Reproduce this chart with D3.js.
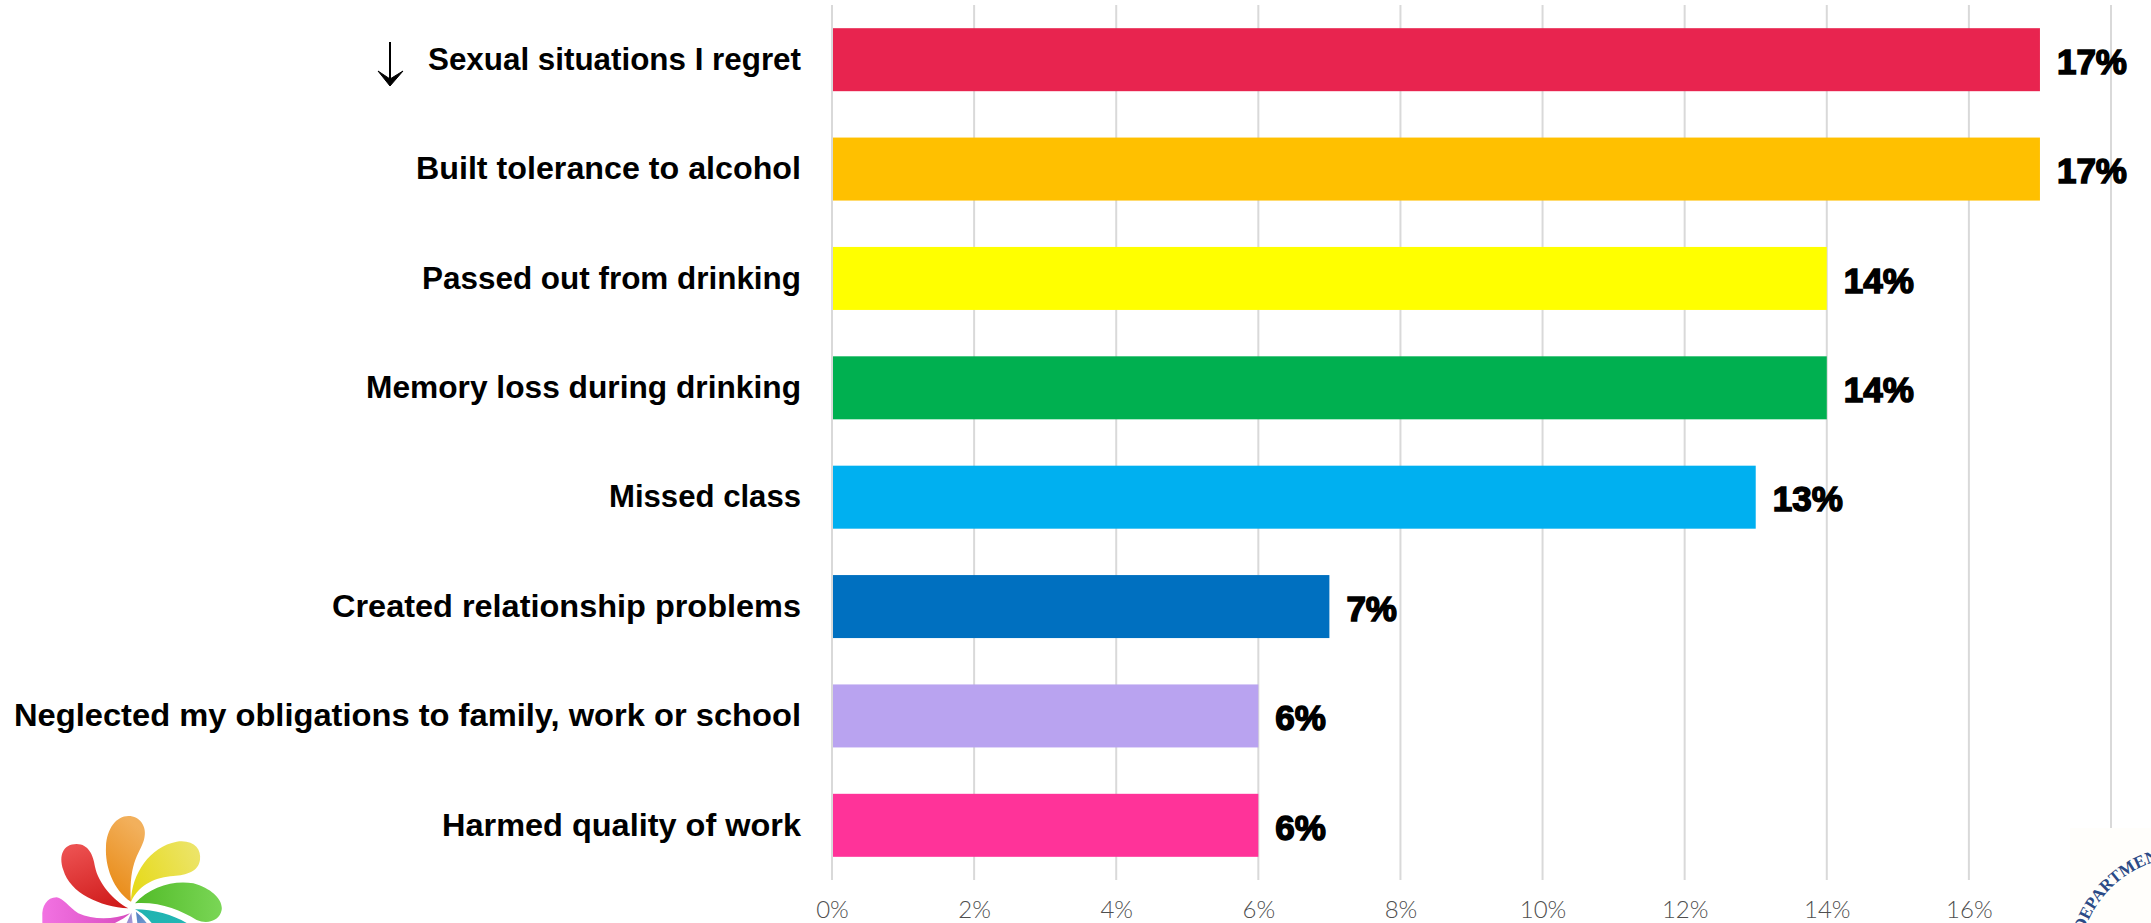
<!DOCTYPE html>
<html><head><meta charset="utf-8">
<script src="https://cdn.jsdelivr.net/npm/d3@7"></script>
<style>html,body{margin:0;padding:0;background:#fff;overflow:hidden}svg{display:block}</style>
</head><body><svg id="c" width="2151" height="923"></svg>
<script>
const categories = ["Sexual situations I regret","Built tolerance to alcohol","Passed out from drinking","Memory loss during drinking","Missed class","Created relationship problems","Neglected my obligations to family, work or school","Harmed quality of work"];
const values = [17,17,14,14,13,7,6,6];
const colors = ["#e8244f","#ffc000","#ffff00","#00b050","#00b0f0","#0070c0","#b9a3f0","#ff3399"];
const ticks = [0,2,4,6,8,10,12,14,16,18];
const tickLabels = ["0%","2%","4%","6%","8%","10%","12%","14%","16%",""];
const labelLengths = [373,385,379,435,192,469,787,359];

const svg = d3.select("#c");
const x = d3.scaleLinear().domain([0,18]).range([832,2111]);
const y = d3.scaleBand().domain(categories).range([5,880]).paddingInner(0.424).paddingOuter(0.212);

svg.append("g").selectAll("line").data(ticks).join("line")
  .attr("x1",d=>x(d)).attr("x2",d=>x(d)).attr("y1",5).attr("y2",880)
  .attr("stroke","#d9d9d9").attr("stroke-width",2);

const axis = d3.axisBottom(x).tickValues(ticks).tickSize(0).tickPadding(0).tickFormat((d,i)=>tickLabels[i]);
const ag = svg.append("g").attr("transform","translate(0,901)").call(axis);
ag.select(".domain").remove();
ag.selectAll("text").attr("font-family","'Lato',sans-serif").attr("font-weight",300).attr("font-size",24).attr("fill","#4f4f4f").attr("dy","0.71em");

svg.append("g").selectAll("rect").data(categories).join("rect")
  .attr("x",x(0)+1).attr("y",d=>y(d)).attr("width",(d,i)=>x(values[i])-x(0)-1).attr("height",y.bandwidth())
  .attr("fill",(d,i)=>colors[i]);

svg.append("g").selectAll("text").data(categories).join("text")
  .attr("x",801).attr("y",d=>y(d)+y.bandwidth()/2-1).attr("dy","0.35em")
  .attr("text-anchor","end").attr("font-family","'Liberation Sans',Arial,sans-serif").attr("font-weight",700).attr("font-size",32)
  .attr("textLength",(d,i)=>labelLengths[i]).attr("lengthAdjust","spacingAndGlyphs")
  .attr("fill","#000").text(d=>d);

svg.append("g").selectAll("text").data(categories).join("text")
  .attr("x",(d,i)=>x(values[i])+17).attr("y",d=>y(d)+y.bandwidth()/2+2).attr("dy","0.35em")
  .attr("font-family","'Liberation Sans',Arial,sans-serif").attr("font-weight",700).attr("font-size",35)
  .attr("fill","#000").attr("stroke","#000").attr("stroke-width",1.5).text((d,i)=>values[i]+"%");

// hand-drawn arrow beside the first label
svg.append("path").attr("d","M390 42 V80").attr("fill","none").attr("stroke","#000").attr("stroke-width",2);
svg.append("path").attr("d","M378 71 L390 86 L403 71 L390 79 Z").attr("fill","#000").attr("stroke","#000").attr("stroke-width",1);

// pinwheel logo, cropped by the bottom edge
const petalData = [
 {id:"o",c0:"#e8870f",c1:"#f2b05c",d:"M393 425 C340 390 315 320 318 260 C320 205 350 168 385 168 C420 168 442 200 433 235 C425 275 385 300 393 425 Z",v:[.1,1,.5,0]},
 {id:"r",c0:"#d01c1c",c1:"#ec5050",d:"M385 445 C300 440 210 400 190 330 C175 285 190 252 230 252 C265 252 280 285 285 320 C295 370 340 420 385 445 Z",v:[.7,1,.3,0]},
 {id:"y",c0:"#e6da1a",c1:"#ece468",d:"M393 425 C395 340 450 260 530 245 C580 238 605 265 600 300 C595 335 560 345 520 348 C470 352 420 370 393 425 Z",v:[0,.7,1,.3]},
 {id:"g",c0:"#52bb28",c1:"#7ad656",d:"M405 430 C450 380 520 360 580 370 C635 385 670 420 665 450 C660 480 625 495 590 480 C540 450 480 425 405 430 Z",v:[0,.5,1,.5]},
 {id:"p",c0:"#d84cc0",c1:"#f272e2",d:"M390 460 C340 480 280 480 235 460 C205 440 190 415 170 412 C140 412 125 440 127 470 L127 489 L345 489 C365 480 380 470 390 460 Z",v:[1,.5,0,.5]},
 {id:"t",c0:"#1fb3b0",c1:"#22b6b4",d:"M405 448 C460 448 520 465 560 489 L455 489 C440 470 425 458 405 448 Z",v:[0,0,1,1]},
 {id:"b",c0:"#4f7fc0",c1:"#6f9ad0",d:"M408 455 C420 465 432 478 440 489 L412 489 Z",v:[0,0,1,1]},
 {id:"v",c0:"#8a7fc8",c1:"#a79ad8",d:"M394 458 L398 489 L380 489 Z",v:[0,0,1,1]}
];
const defs = svg.append("defs");
const grads = defs.selectAll("linearGradient").data(petalData).join("linearGradient")
  .attr("id",d=>"g"+d.id).attr("x1",d=>d.v[0]).attr("y1",d=>d.v[1]).attr("x2",d=>d.v[2]).attr("y2",d=>d.v[3]);
grads.append("stop").attr("offset",0).attr("stop-color",d=>d.c0);
grads.append("stop").attr("offset",1).attr("stop-color",d=>d.c1);
svg.append("g").attr("transform","translate(0,760) scale(0.3333)")
  .selectAll("path").data(petalData).join("path").attr("d",d=>d.d).attr("fill",d=>`url(#g${d.id})`);

// seal, cropped by the right and bottom edges
svg.append("rect").attr("x",2070).attr("y",828).attr("width",81).attr("height",95).attr("fill","#fffefb");
defs.append("path").attr("id","arc").attr("d","M2084 932 A108 108 0 0 1 2190 857");
svg.append("text").attr("font-family","'Liberation Serif',serif").attr("font-weight",700).attr("font-size",17).attr("fill","#2b4a86")
  .append("textPath").attr("href","#arc").text("DEPARTMENT");
</script></body></html>
